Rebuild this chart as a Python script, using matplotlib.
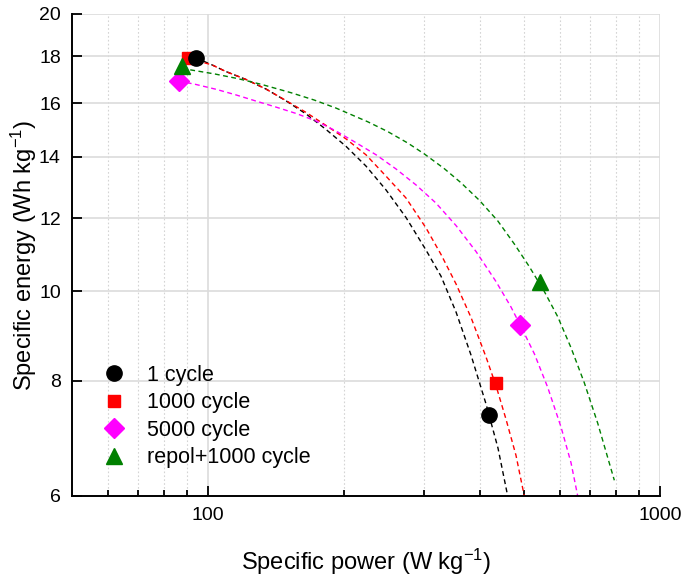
import matplotlib
matplotlib.use("Agg")
import matplotlib.pyplot as plt
from matplotlib.ticker import FixedLocator, NullFormatter, FixedFormatter

plt.rcParams['font.family'] = ['Liberation Sans', 'DejaVu Sans']
plt.rcParams['mathtext.default'] = 'regular'

# measured points (specific power W/kg, specific energy Wh/kg)
labels = ['1 cycle', '1000 cycle', '5000 cycle', 'repol+1000 cycle']
colors = ['black', '#ff0000', '#ff00ff', '#008000']
markers = ['o', 's', 'D', '^']
power = [[94.1, 419], [90.5, 434], [86.1, 491], [87.6, 543]]
energy = [[17.92, 7.34], [17.9, 7.96], [16.92, 9.19], [17.58, 10.25]]

# dashed fit curves
fit_p_black = [94.1, 102.1, 109.6, 121.4, 134.4, 148.8, 164.8, 182.4, 202.0, 223.6,
               247.6, 274.2, 303.6, 327.7, 353.8, 381.9, 412.2, 438.2, 460.3]
fit_e_black = [17.92, 17.61, 17.32, 16.98, 16.58, 16.10, 15.58, 14.99, 14.37, 13.68,
               12.89, 12.03, 11.09, 10.39, 9.50, 8.53, 7.55, 6.76, 6.0]
fit_p_red = [90.5, 102.1, 109.6, 121.4, 134.4, 148.8, 164.8, 182.4, 202.0, 223.6,
             247.6, 274.2, 303.6, 327.7, 353.8, 381.9, 412.2, 433.8, 456.3, 480.2, 500.9]
fit_e_red = [17.9, 17.61, 17.32, 16.98, 16.58, 16.11, 15.64, 15.14, 14.64, 14.07,
             13.34, 12.63, 11.72, 10.97, 10.19, 9.37, 8.49, 7.90, 7.27, 6.64, 6.0]
fit_p_mag = [86.1, 94.1, 104.2, 115.3, 127.7, 141.4, 156.6, 173.4, 192.0, 212.6,
             235.4, 260.6, 288.5, 319.5, 353.8, 391.7, 433.8, 468.1, 492.6, 527.2,
             564.4, 603.9, 635.5, 657.6]
fit_e_mag = [16.92, 16.77, 16.57, 16.34, 16.09, 15.85, 15.60, 15.31, 14.93, 14.50,
             14.07, 13.58, 13.05, 12.47, 11.79, 11.05, 10.25, 9.62, 9.16, 8.56,
             7.87, 7.13, 6.52, 6.0]
fit_p_green = [87.6, 91.7, 103.3, 116.3, 131.0, 152.6, 171.9, 192.0, 225.6, 249.8,
               276.6, 301.0, 333.3, 362.9, 398.3, 437.5, 476.1, 513.9, 554.7, 593.9,
               635.5, 680.1, 727.9, 792.4]
fit_e_green = [17.45, 17.39, 17.22, 17.02, 16.78, 16.43, 16.13, 15.81, 15.28, 14.91,
               14.49, 14.10, 13.59, 13.12, 12.56, 11.93, 11.26, 10.64, 10.00, 9.39,
               8.69, 7.96, 7.20, 6.24]

fit_p = [fit_p_black, fit_p_red, fit_p_mag, fit_p_green]
fit_e = [fit_e_black, fit_e_red, fit_e_mag, fit_e_green]

y_ticks = [6, 8, 10, 12, 14, 16, 18, 20]
x_major = [100, 1000]
x_minor = [60, 70, 80, 90, 200, 300, 400, 500, 600, 700, 800, 900]

fig = plt.figure(figsize=(6.85, 5.75), dpi=100)
ax = fig.add_axes([0.105, 0.1374, 0.8585, 0.8383])
ax.set_xscale('log')
ax.set_yscale('log')

for px, ey, c in zip(fit_p, fit_e, colors):
    ax.plot(px, ey, color=c, lw=1.0, dashes=(3.5, 2.5), zorder=2)

msizes = [11, 9, 10, 11]
for i in [2, 1, 3, 0]:
    ax.plot(power[i], energy[i], ls='none', marker=markers[i], color=colors[i],
            ms=msizes[i], zorder=3)

# legend handles
handles = []
for i in range(4):
    h, = ax.plot([], [], ls='none', marker=markers[i], color=colors[i],
                 ms=msizes[i], label=labels[i])
    handles.append(h)
ax.legend(handles=handles, loc='upper left', bbox_to_anchor=(0.0115, 0.3125),
          frameon=False, fontsize=15.5, handletextpad=0.75, labelspacing=0.3,
          handlelength=1.5, borderpad=0.4)

ax.set_xlim(50, 1000)
ax.set_ylim(6, 20)
ax.xaxis.set_major_locator(FixedLocator(x_major))
ax.xaxis.set_major_formatter(FixedFormatter([str(v) for v in x_major]))
ax.xaxis.set_minor_locator(FixedLocator(x_minor))
ax.xaxis.set_minor_formatter(NullFormatter())
ax.yaxis.set_major_locator(FixedLocator(y_ticks))
ax.yaxis.set_major_formatter(FixedFormatter([str(v) for v in y_ticks]))
ax.yaxis.set_minor_locator(FixedLocator([]))

ax.grid(True, which='major', axis='both', color='#dcdcdc', lw=1.2, zorder=0)
ax.grid(True, which='minor', axis='x', color='#d4d4d4', lw=0.8, ls=(0, (1.5, 2)), zorder=0)
ax.set_axisbelow(True)

ax.tick_params(which='major', direction='in', length=7, width=1.3, labelsize=14,
               pad=8, right=False, top=False)
ax.tick_params(which='minor', direction='in', length=4, width=1.3)
for s in ['top', 'right']:
    ax.spines[s].set_visible(False)
for s in ['left', 'bottom']:
    ax.spines[s].set_linewidth(1.4)

ax.set_xlabel('Specific power (W kg$^{-1}$)', fontsize=17, labelpad=16)
ax.set_ylabel('Specific energy (Wh kg$^{-1}$)', fontsize=17, labelpad=0)

fig.savefig('out.png', dpi=100)
